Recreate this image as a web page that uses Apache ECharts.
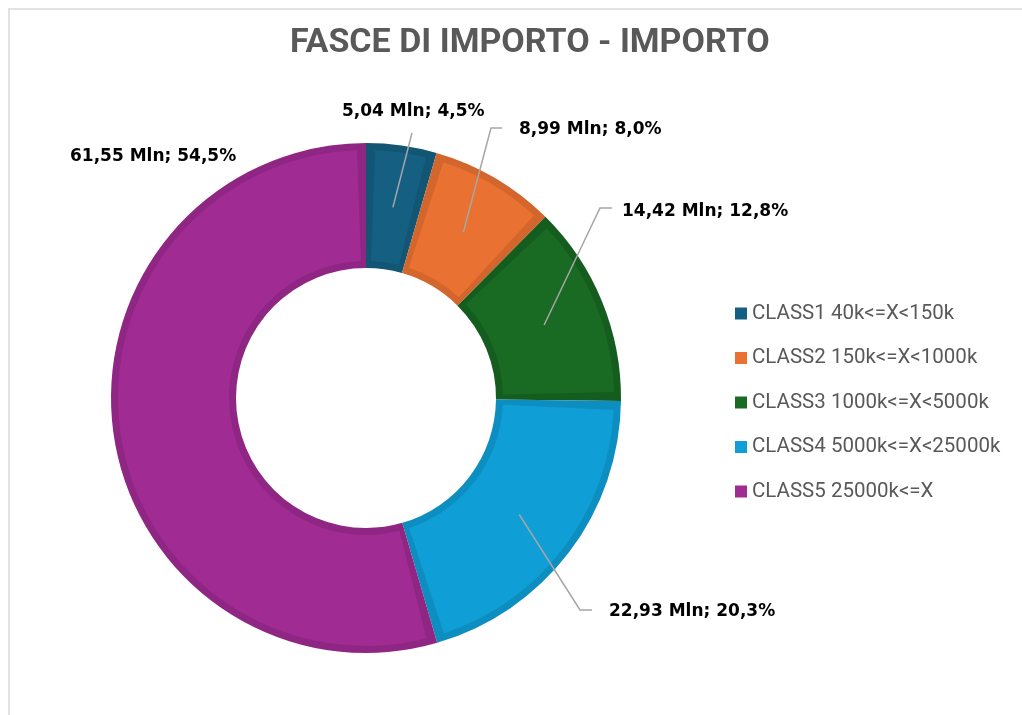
<!DOCTYPE html>
<html>
<head>
<meta charset="utf-8">
<script src="https://cdn.jsdelivr.net/npm/echarts@6.0.0/dist/echarts.min.js"></script>
<style>
  html, body { margin: 0; padding: 0; background: #fff; }
  #chart { width: 1022px; height: 715px; }
</style>
</head>
<body>
<div id="chart"></div>
<script>
const categories = [
  'CLASS1 40k<=X<150k',
  'CLASS2 150k<=X<1000k',
  'CLASS3 1000k<=X<5000k',
  'CLASS4 5000k<=X<25000k',
  'CLASS5 25000k<=X'
]
// importo in milioni
const amounts = [5.04, 8.99, 14.42, 22.93, 61.55]

const fillColors = ['#156082', '#E97132', '#196B24', '#0F9ED5', '#A02B93']
const edgeColors = ['#125673', '#D3662C', '#155C1F', '#0D8EC0', '#8F2684']

// label anchor (left, middle) and the leader line bends, in px
const labelSpots = [
  { x: 342, y: 112, line: [[412, 133]] },
  { x: 519, y: 130, line: [[491, 128], [502, 128]] },
  { x: 622, y: 212, line: [[600, 208], [612, 208]] },
  { x: 609, y: 612, line: [[580, 610], [592, 610]] },
  { x: 70, y: 157, line: null }
]

const center = [366, 398]
const outerR = 255
const innerR = 130
const edge = 7

const total = amounts.reduce((a, b) => a + b, 0)
const midAngles = []
let acc = 0
amounts.forEach((v) => {
  midAngles.push(((acc + v / 2) / total) * Math.PI * 2)
  acc += v
})

const fmt = (p) => {
  const pct = ((p.value / total) * 100).toFixed(1).replace('.', ',')
  return p.value.toFixed(2).replace('.', ',') + ' Mln; ' + pct + '%'
}

const chart = echarts.init(document.getElementById('chart'))

const ringBase = {
  type: 'pie',
  center: center,
  startAngle: 90,
  emphasis: { disabled: true },
  label: { show: false },
  labelLine: { show: false }
}

const option = {
  animation: false,
  title: {
    text: 'FASCE DI IMPORTO - IMPORTO',
    left: 290,
    top: 26,
    padding: 0,
    textStyle: { fontFamily: 'Roboto', fontWeight: 'bold', fontSize: 34, color: '#595959' }
  },
  legend: {
    orient: 'vertical',
    left: 735,
    top: 303,
    padding: 0,
    icon: 'rect',
    itemWidth: 12,
    itemHeight: 12,
    itemGap: 23.5,
    selectedMode: false,
    data: categories,
    textStyle: { fontFamily: 'Roboto', fontSize: 20.5, lineHeight: 20, color: '#595959' }
  },
  graphic: [
    {
      type: 'rect',
      z: -10,
      shape: { x: 9, y: 9, width: 1100, height: 800 },
      style: { fill: 'none', stroke: '#e2e2e2', lineWidth: 2 }
    }
  ],
  series: [
    {
      ...ringBase,
      name: 'fill',
      z: 3,
      radius: [innerR + edge, outerR - edge],
      padAngle: 4.2,
      data: categories.map((name, i) => ({
        name: name,
        value: amounts[i],
        itemStyle: { color: fillColors[i] }
      }))
    },
    {
      ...ringBase,
      name: 'edge',
      z: 2,
      silent: true,
      radius: [innerR, outerR],
      data: categories.map((name, i) => ({
        name: name,
        value: amounts[i],
        itemStyle: { color: edgeColors[i] }
      }))
    },
    {
      ...ringBase,
      name: 'labels',
      z: 5,
      silent: true,
      radius: [innerR, outerR],
      itemStyle: { color: 'rgba(0,0,0,0)' },
      label: {
        show: true,
        position: 'outside',
        overflow: 'none',
        formatter: fmt,
        fontFamily: 'DejaVu Sans',
        fontWeight: 'bold',
        fontSize: 17,
        color: '#000'
      },
      labelLine: { show: true, lineStyle: { color: '#a6a6a6', width: 1.5 } },
      labelLayout: (params) => {
        const i = params.dataIndex
        const spot = labelSpots[i]
        const rMid = (innerR + outerR) / 2
        const a = midAngles[i]
        const anchor = [center[0] + rMid * Math.sin(a), center[1] - rMid * Math.cos(a)]
        const res = { x: spot.x, y: spot.y, width: 260, align: 'left', verticalAlign: 'middle' }
        if (spot.line) res.labelLinePoints = [anchor].concat(spot.line)
        return res
      },
      data: categories.map((name, i) => ({
        name: name,
        value: amounts[i],
        labelLine: { show: labelSpots[i].line !== null }
      }))
    }
  ]
}

chart.setOption(option)
</script>
</body>
</html>
